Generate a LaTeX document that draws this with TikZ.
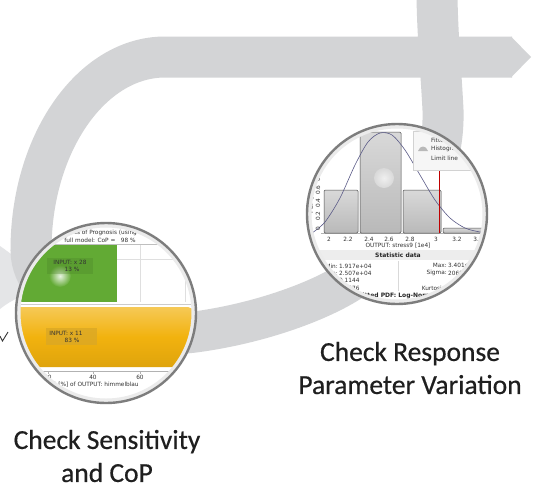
\documentclass[tikz,border=0pt]{standalone}
\usepackage{fontspec}
\setmainfont{Carlito}
\newfontfamily\labelfont[FakeBold=0.5]{Carlito}
\newfontfamily\plotfont{DejaVu Sans}
\definecolor{bandc}{RGB}{211,212,214}
\definecolor{bandlight}{RGB}{228,229,231}
\definecolor{greenc}{RGB}{98,170,52}
\definecolor{yellowc}{RGB}{242,178,14}
\definecolor{rimc}{RGB}{125,125,125}
\definecolor{curvec}{RGB}{90,90,135}
\begin{document}
\begin{tikzpicture}[x=1pt,y=-1pt,
  band/.style={draw=bandc, line width=41pt},
  rim/.style={draw=rimc, line width=2.4pt},
  rimin/.style={draw=gray!16, line width=4pt},
  pt/.style={font=\plotfont\fontsize{5.8}{6}\selectfont, inner sep=0pt, text=black!80},
  ptb/.style={font=\plotfont\bfseries\fontsize{6}{6}\selectfont, inner sep=0pt, text=black!85},
  histbar/.style={draw=black!70, line width=0.5pt, rounded corners=1.2pt, top color=gray!30, bottom color=gray!55},
  biglabel/.style={font=\labelfont\fontsize{27.5}{33}\selectfont, align=center, inner sep=0pt, text=black!88}]
\useasboundingbox (0,0) rectangle (533,488);
\fill[white] (0,0) rectangle (533,488);

% light band entering from the left
\fill[bandlight] (0,246) .. controls (10,253) and (20,261) .. (32,270) -- (20,297) .. controls (13,300) and (6,304) .. (0,309) -- cycle;

% main grey loop with arrow head
\draw[band] (512,57) -- (165,57) .. controls (91,57) and (31,144) .. (31,250)
  .. controls (31,305) and (120,342) .. (195,332)
  .. controls (262,323) and (322,300) .. (352,280)
  .. controls (410,240) and (445,175) .. (443,110)
  .. controls (441,70) and (437,30) .. (437,-10);
\fill[bandc] (511,36.5) -- (531,57) -- (511,77.5) -- cycle;

% small dark mark at left edge
\draw[black!80, line width=0.9pt] (0,336) -- (2.5,341) -- (8,332);

% ---------- sensitivity lens ----------
\begin{scope}
  \clip (106,313) circle (90pt);
  \fill[white] (0,200) rectangle (220,420);
  \node[pt] (t1) at (100,233) {Coefficients of Prognosis (using MOP)};
  \node[pt] (t2) at (100,240) {full model: CoP =\ \ \ 98 \%};
  \draw[gray!50, line width=0.5pt] (0,244) -- (220,244);
  \fill[greenc] (0,245) rectangle (117,302);
  \shade[inner color=white!85!greenc, outer color=greenc] (60,276) circle (11pt);
  \fill[greenc!75!black, opacity=0.3] (47,258) rectangle (93,274);
  \node[pt] (g1) at (70,262) {INPUT: x 28};
  \node[pt] (g2) at (72,269.5) {13 \%};
  \draw[gray!25, line width=0.5pt] (140,245) -- (140,302) (185,245) -- (185,302) (117,259) -- (200,259);
  \draw[gray!40, line width=0.5pt] (0,304.5) -- (220,304.5);
  \shade[top color=yellowc!70!white, bottom color=yellowc!92!black, middle color=yellowc, rounded corners=5pt] (-10,307) rectangle (193,367);
  \fill[yellowc!80!gray, opacity=0.8] (46,328) rectangle (97,345);
  \node[pt] (y1) at (66,333) {INPUT: x 11};
  \node[pt] (y2) at (72,340.5) {83 \%};
  \draw[gray!60, line width=0.5pt] (0,371) -- (220,371);
  \draw[gray!60, line width=0.5pt] (48,371) -- (48,373.5) (93,371) -- (93,373.5) (140,371) -- (140,373.5);
  \node[pt] (a1) at (48,377.5) {20};
  \node[pt] (a2) at (93,377.5) {40};
  \node[pt] (a3) at (140,377.5) {60};
  \node[pt] (a4) at (92,385) {CoP [\%] of OUTPUT: himmelblau};
\end{scope}
\draw[rimin] (106,313) circle (87.5pt);
\draw[rim] (106,313) circle (90pt);

% ---------- histogram lens ----------
\begin{scope}
  \clip (397,214) circle (90pt);
  \fill[white] (300,120) rectangle (495,310);
  \draw[gray!60, line width=0.5pt] (321,233) -- (495,233);
  \draw[histbar] (324,233) rectangle (358,190);
  \draw[histbar] (360,233) rectangle (401,132);
  \draw[histbar] (403,233) rectangle (441,190);
  \draw[histbar] (443,233) rectangle (490,228);
  \shade[inner color=gray!12, outer color=gray!30] (384,178) circle (10pt);
  \draw[curvec, line width=0.6pt] plot[smooth] coordinates {(312,233) (325,222) (340,198) (355,165) (368,142) (380,133) (392,135) (405,150) (420,175) (435,200) (450,218) (465,228) (480,232) (492,233)};
  \draw[red!75!black, line width=0.6pt] (439,170) -- (439,233);
  \draw[fill=gray!7, draw=gray!35, line width=0.5pt] (413,131) rectangle (500,170);
  \node[pt, anchor=west] (l1) at (431,140) {Fitted PDF};
  \fill[gray!55] (418,151) .. controls (420,145) and (426,145) .. (428,151) -- cycle;
  \node[pt, anchor=west] (l2) at (431,149) {Histogram};
  \node[pt, anchor=west] (l3) at (431,158) {Limit line};
  \node[pt, rotate=90] (p0) at (318,229) {0};
  \node[pt, rotate=90] (p1) at (318,216) {0.2};
  \node[pt, rotate=90] (p2) at (318,203) {0.4};
  \node[pt, rotate=90] (p3) at (318,190) {0.6};
  \node[pt, rotate=90] (p4) at (318,177) {0.8};
  \node[pt, rotate=90] (pl) at (311,196) {PDF [1/1e4]};
  \node[pt] (x0) at (329,239.5) {2};
  \node[pt] (x1) at (348,239.5) {2.2};
  \node[pt] (x2) at (369,239.5) {2.4};
  \node[pt] (x3) at (389,239.5) {2.6};
  \node[pt] (x4) at (410,239.5) {2.8};
  \node[pt] (x5) at (436,239.5) {3};
  \node[pt] (x6) at (457,239.5) {3.2};
  \node[pt] (x7) at (478,239.5) {3.4};
  \node[pt] (xl) at (398,246) {OUTPUT: stress9 [1e4]};
  \fill[gray!14] (300,250) rectangle (495,260);
  \node[ptb] (sh) at (398,255) {Statistic data};
  \draw[gray!30, line width=0.4pt] (398,261) -- (398,291);
  \node[pt, anchor=east] (s1) at (338,266) {Min:};
  \node[pt, anchor=west] (s1v) at (339,266) {1.917e+04};
  \node[pt, anchor=east] (s2) at (447,265.5) {Max:};
  \node[pt, anchor=west] (s2v) at (448,265.5) {3.401e+04};
  \node[pt, anchor=east] (s3) at (338,273) {Mean:};
  \node[pt, anchor=west] (s3v) at (339,273) {2.507e+04};
  \node[pt, anchor=east] (s4) at (447,273) {Sigma:};
  \node[pt, anchor=west] (s4v) at (448,273) {2068};
  \node[pt, anchor=east] (s5) at (338,280) {CoV:};
  \node[pt, anchor=west] (s5v) at (339,280) {0.1144};
  \node[pt, anchor=east] (s6) at (338,288) {Skewness:};
  \node[pt, anchor=west] (s6v) at (339,288) {0.9576};
  \node[pt, anchor=east] (s7) at (447,288) {Kurtosis:};
  \node[pt, anchor=west] (s7v) at (448,288) {3.6};
  \node[ptb] (sf) at (398,296) {Fitted PDF: Log-Normal};
\end{scope}
\draw[rimin] (397,214) circle (87.5pt);
\draw[rim] (397,214) circle (90pt);

% ---------- labels ----------
\node[biglabel] (sens) at (107,456) {Check Sensitivity\\and CoP};
\node[biglabel] (resp) at (410,368) {Check Response\\Parameter Variation};
\end{tikzpicture}
\end{document}
